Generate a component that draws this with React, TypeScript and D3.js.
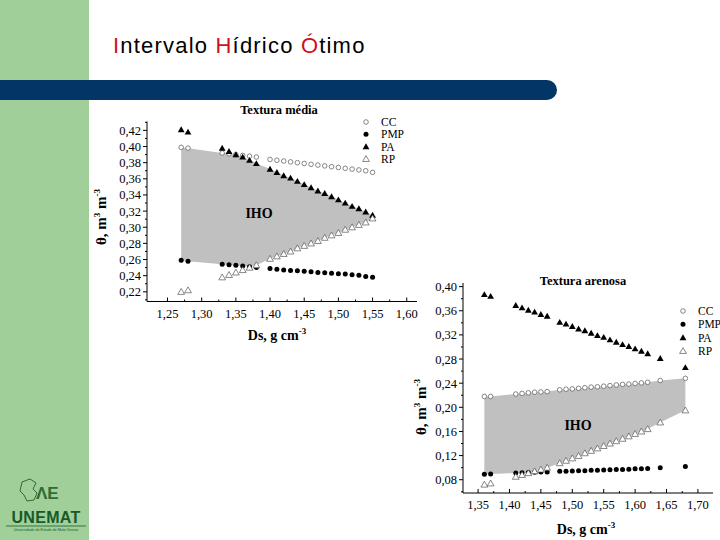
import React from 'react';
import * as d3 from 'd3';

// ---------- Data: Textura média ----------
const topDs = [1.27, 1.28, 1.33, 1.34, 1.35, 1.36, 1.37, 1.38, 1.40, 1.41, 1.42, 1.43, 1.44, 1.45, 1.46, 1.47, 1.48, 1.49, 1.50, 1.51, 1.52, 1.53, 1.54, 1.55];
const topCC = [0.399, 0.398, 0.392, 0.391, 0.390, 0.389, 0.388, 0.387, 0.384, 0.383, 0.382, 0.381, 0.380, 0.379, 0.378, 0.377, 0.376, 0.375, 0.374, 0.373, 0.372, 0.371, 0.370, 0.368];
const topPMP = [0.259, 0.258, 0.254, 0.2535, 0.253, 0.252, 0.251, 0.250, 0.249, 0.248, 0.247, 0.2465, 0.246, 0.2455, 0.245, 0.244, 0.2435, 0.243, 0.2425, 0.242, 0.241, 0.2405, 0.239, 0.238];
const topPA = [0.421, 0.418, 0.398, 0.394, 0.390, 0.387, 0.383, 0.379, 0.372, 0.368, 0.364, 0.361, 0.357, 0.353, 0.349, 0.345, 0.342, 0.338, 0.334, 0.330, 0.326, 0.323, 0.319, 0.315];
const topRP = [0.220, 0.222, 0.238, 0.241, 0.244, 0.247, 0.250, 0.253, 0.261, 0.264, 0.267, 0.270, 0.274, 0.277, 0.280, 0.283, 0.287, 0.290, 0.293, 0.297, 0.300, 0.303, 0.306, 0.311];
const topXTicks = [1.25, 1.30, 1.35, 1.40, 1.45, 1.50, 1.55, 1.60];
const topYTicks = [0.22, 0.24, 0.26, 0.28, 0.30, 0.32, 0.34, 0.36, 0.38, 0.40, 0.42];

// ---------- Data: Textura arenosa ----------
const botDs = [1.36, 1.37, 1.41, 1.42, 1.43, 1.44, 1.45, 1.46, 1.48, 1.49, 1.50, 1.51, 1.52, 1.53, 1.54, 1.55, 1.56, 1.57, 1.58, 1.59, 1.60, 1.61, 1.62, 1.64, 1.68];
const botCC = [0.218, 0.218, 0.222, 0.223, 0.224, 0.225, 0.2255, 0.226, 0.229, 0.230, 0.2305, 0.2315, 0.2325, 0.2335, 0.234, 0.235, 0.236, 0.237, 0.238, 0.2385, 0.2395, 0.2405, 0.2415, 0.2445, 0.248];
const botPMP = [0.089, 0.0895, 0.091, 0.0915, 0.092, 0.0925, 0.093, 0.093, 0.094, 0.094, 0.0945, 0.095, 0.095, 0.0955, 0.0955, 0.096, 0.0965, 0.097, 0.097, 0.0975, 0.098, 0.098, 0.0985, 0.100, 0.102];
const botPA = [0.387, 0.384, 0.369, 0.365, 0.361, 0.358, 0.354, 0.351, 0.341, 0.338, 0.334, 0.330, 0.327, 0.323, 0.319, 0.316, 0.312, 0.308, 0.304, 0.301, 0.297, 0.293, 0.289, 0.281, 0.266];
const botRP = [0.072, 0.074, 0.085, 0.088, 0.091, 0.094, 0.097, 0.100, 0.1075, 0.1115, 0.1155, 0.1195, 0.124, 0.128, 0.132, 0.136, 0.140, 0.144, 0.148, 0.152, 0.156, 0.160, 0.164, 0.175, 0.195];
const botXTicks = [1.35, 1.40, 1.45, 1.50, 1.55, 1.60, 1.65, 1.70];
const botYTicks = [0.08, 0.12, 0.16, 0.20, 0.24, 0.28, 0.32, 0.36, 0.40];

const seriesNames = ['CC', 'PMP', 'PA', 'RP'];

const SERIF = '"Liberation Serif", "Times New Roman", serif';
const SANS = '"Liberation Sans", Arial, sans-serif';
const fmt = (v: number) => d3.format('.2f')(v).replace('.', ',');

const triPath = d3.symbol(d3.symbolTriangle, 20)() as string;

function Marker({ kind, x, y }: { kind: string; x: number; y: number }) {
  if (kind === 'CC') return <circle cx={x} cy={y} r={2.3} fill="white" stroke="#555" strokeWidth={0.7} />;
  if (kind === 'PMP') return <circle cx={x} cy={y} r={2.5} fill="black" />;
  if (kind === 'PA') return <path d={triPath} transform={`translate(${x},${y + 0.6})`} fill="black" />;
  return <path d={triPath} transform={`translate(${x},${y + 0.6})`} fill="white" stroke="#555" strokeWidth={0.7} />;
}

type ChartCfg = {
  ds: number[]; cc: number[]; pmp: number[]; pa: number[]; rp: number[];
  xDomain: [number, number]; xRange: [number, number];
  yDomain: [number, number]; yRange: [number, number];
  xTicks: number[]; yTicks: number[];
  title: string; titleX: number; titleY: number;
  legendX: number; legendY: number; legendStep: number;
  ihoX: number; ihoY: number;
  xLabelX: number; xLabelY: number;
  yLabelX: number; yLabelY: number;
};

function Chart({ c }: { c: ChartCfg }) {
  const x = d3.scaleLinear().domain(c.xDomain).range(c.xRange);
  const y = d3.scaleLinear().domain(c.yDomain).range(c.yRange);
  const rows = c.ds.map((d, i) => ({ ds: d, CC: c.cc[i], PMP: c.pmp[i], PA: c.pa[i], RP: c.rp[i] }));
  const area = d3.area<any>()
    .x(d => x(d.ds))
    .y0(d => y(Math.max(d.PMP, d.RP)))
    .y1(d => y(Math.min(d.CC, d.PA)));
  const x0 = c.xRange[0], yb = c.yRange[0];
  const xMinor: number[] = [];
  for (let i = 0; i < c.xTicks.length - 1; i++) xMinor.push((c.xTicks[i] + c.xTicks[i + 1]) / 2);
  const yMinor: number[] = [];
  const ys = c.yTicks[1] - c.yTicks[0];
  for (let i = -1; i < c.yTicks.length; i++) {
    const v = c.yTicks[0] + ys * (i + 0.5);
    if (v > c.yDomain[0] && v < c.yDomain[1]) yMinor.push(v);
  }
  return (
    <g>
      <path d={area(rows) as string} fill="#c0c0c0" />
      {seriesNames.map(s => (
        <g key={s}>
          {rows.map((r, i) => <Marker key={i} kind={s} x={x(r.ds)} y={y((r as any)[s])} />)}
        </g>
      ))}
      <text x={c.ihoX} y={c.ihoY} fontFamily={SERIF} fontWeight="bold" fontSize={14} textAnchor="middle">IHO</text>
      <text x={c.titleX} y={c.titleY} fontFamily={SERIF} fontWeight="bold" fontSize={12.5} textAnchor="middle">{c.title}</text>
      {seriesNames.map((s, i) => (
        <g key={s}>
          <Marker kind={s} x={c.legendX} y={c.legendY + i * c.legendStep} />
          <text x={c.legendX + 15} y={c.legendY + i * c.legendStep + 4} fontFamily={SERIF} fontSize={11.5}>{s}</text>
        </g>
      ))}
      {/* axes */}
      <line x1={x0} x2={c.xRange[1]} y1={yb} y2={yb} stroke="black" strokeWidth={1} />
      <line x1={x0} x2={x0} y1={yb} y2={c.yRange[1]} stroke="black" strokeWidth={1} />
      {c.xTicks.map(t => (
        <g key={t}>
          <line x1={x(t)} x2={x(t)} y1={yb} y2={yb - 4} stroke="black" />
          <text x={x(t)} y={yb + 16} fontFamily={SERIF} fontSize={12.5} textAnchor="middle">{fmt(t)}</text>
        </g>
      ))}
      {xMinor.map(t => <line key={t} x1={x(t)} x2={x(t)} y1={yb} y2={yb - 2} stroke="black" />)}
      {c.yTicks.map(t => (
        <g key={t}>
          <line x1={x0 - 4} x2={x0} y1={y(t)} y2={y(t)} stroke="black" />
          <text x={x0 - 6} y={y(t) + 4.5} fontFamily={SERIF} fontSize={12.5} textAnchor="end">{fmt(t)}</text>
        </g>
      ))}
      {yMinor.map(t => <line key={t} x1={x0 - 2} x2={x0} y1={y(t)} y2={y(t)} stroke="black" />)}
      <text x={c.xLabelX} y={c.xLabelY} fontFamily={SERIF} fontWeight="bold" fontSize={14} textAnchor="middle">
        Ds, g cm<tspan dy={-6} fontSize={9}>-3</tspan>
      </text>
      <text transform={`translate(${c.yLabelX},${c.yLabelY}) rotate(-90)`} fontFamily={SERIF} fontWeight="bold" fontSize={15} textAnchor="middle">
        θ, m<tspan dy={-6} fontSize={9}>3</tspan><tspan dy={6}> m</tspan><tspan dy={-6} fontSize={9}>-3</tspan>
      </text>
    </g>
  );
}

const topCfg: ChartCfg = {
  ds: topDs, cc: topCC, pmp: topPMP, pa: topPA, rp: topRP,
  xDomain: [1.22, 1.615], xRange: [147, 417],
  yDomain: [0.208, 0.431], yRange: [301.5, 121.5],
  xTicks: topXTicks, yTicks: topYTicks,
  title: 'Textura média', titleX: 279, titleY: 114,
  legendX: 366, legendY: 122, legendStep: 12.3,
  ihoX: 259, ihoY: 218,
  xLabelX: 277, xLabelY: 340,
  yLabelX: 106, yLabelY: 217,
};

const botCfg: ChartCfg = {
  ds: botDs, cc: botCC, pmp: botPMP, pa: botPA, rp: botRP,
  xDomain: [1.326, 1.724], xRange: [463, 713],
  yDomain: [0.058, 0.406], yRange: [493, 283],
  xTicks: botXTicks, yTicks: botYTicks,
  title: 'Textura arenosa', titleX: 583, titleY: 285,
  legendX: 683, legendY: 311, legendStep: 13.3,
  ihoX: 578, ihoY: 430,
  xLabelX: 586, xLabelY: 534,
  yLabelX: 426, yLabelY: 407,
};

export default function App() {
  return (
    <svg width={720} height={540} style={{ position: 'absolute', left: 0, top: 0, background: 'white' }}>
      <rect x={0} y={0} width={720} height={540} fill="white" />
      <rect x={0} y={0} width={89} height={540} fill="#a1cf99" />
      <path d="M0,80 H547 A10,10 0 0 1 557,90 A10,10 0 0 1 547,100 H0 Z" fill="#033567" />
      <text x={113} y={53} fontFamily={SANS} fontSize={22} letterSpacing={1.2} fill="black">
        <tspan fill="#d0101a">I</tspan>ntervalo <tspan fill="#d0101a">H</tspan>ídrico <tspan fill="#d0101a">Ó</tspan>timo
      </text>
      <Chart c={topCfg} />
      <Chart c={botCfg} />
      {/* logo */}
      <g>
        <path d="M22,482 L30,479 L36,483 L33,489 L37,493 L34,500 L27,501 L24,495 L20,491 Z" fill="none" stroke="#2e6b36" strokeWidth={1} />
        <text x={36} y={499} fontFamily={SANS} fontWeight="bold" fontSize={17} fill="#2e6b36">ΛE</text>
        <text x={46} y={523} fontFamily={SANS} fontWeight="bold" fontSize={16} fill="#165a2a" textAnchor="middle" letterSpacing={0.3}>UNEMAT</text>
        <line x1={6} x2={86} y1={526} y2={526} stroke="#165a2a" strokeWidth={0.8} />
        <text x={46} y={531} fontFamily={SANS} fontSize={3.6} fill="#165a2a" textAnchor="middle">Universidade do Estado de Mato Grosso</text>
      </g>
    </svg>
  );
}
